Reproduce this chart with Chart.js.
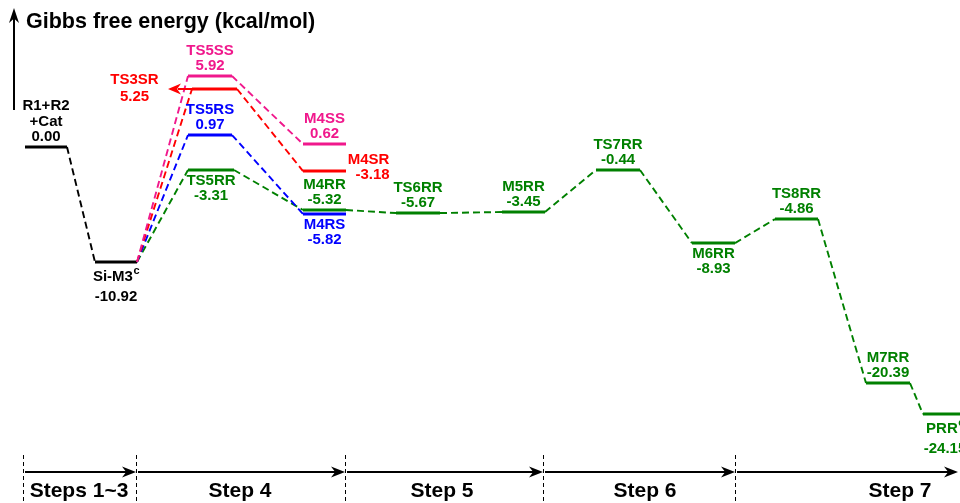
<!DOCTYPE html>
<html>
<head>
<meta charset="utf-8">
<script src="https://cdn.jsdelivr.net/npm/chart.js@4"></script>
<style>
    html, body { margin: 0; padding: 0; background: #fff; }
    #wrap { width: 960px; height: 503px; position: relative; }
</style>
</head>
<body>
<div id="wrap"><canvas id="profileChart"></canvas></div>
<script>
// species on the free energy profile
const species = ["R1+R2|+Cat", "Si-M3", "TS5SS", "TS3SR", "TS5RS", "TS5RR", "M4SS", "M4SR", "M4RR", "M4RS",
    "TS6RR", "M5RR", "TS7RR", "M6RR", "TS8RR", "M7RR", "PRR"];
const superscripts = ["", "c", "", "", "", "", "", "", "", "", "", "", "", "", "", "", "c"];
// Gibbs free energies (kcal/mol) as printed
const energies = [0.00, -10.92, 5.92, 5.25, 0.97, -3.31, 0.62, -3.18, -5.32, -5.82,
    -5.67, -3.45, -0.44, -8.93, -4.86, -20.39, -24.15];
// heights as drawn (the diagram is schematic, not to scale)
const drawnLevel = [0.00, -10.92, 6.74, 5.51, 1.14, -2.18, 0.28, -2.28, -5.98, -6.36,
    -6.27, -6.17, -2.18, -9.12, -6.84, -22.41, -25.36];
// reaction coordinate extent of each level
const levelStart = [25, 95, 188, 192, 188, 188, 303, 303, 303, 303, 396, 502, 596, 692, 775, 866, 923];
const levelEnd = [67, 137, 232, 237, 232, 234, 346, 346, 346, 346, 440, 545, 640, 735, 818, 910, 975];
// pathway each species belongs to
const pathway = ["ref", "ref", "SS", "SR", "RS", "RR", "SS", "SR", "RR", "RS",
    "RR", "RR", "RR", "RR", "RR", "RR", "RR"];
// dashed connections (from, to)
const connections = [[0, 1], [1, 2], [1, 3], [1, 4], [1, 5], [2, 6], [3, 7], [4, 9], [5, 8],
    [8, 10], [10, 11], [11, 12], [12, 13], [13, 14], [14, 15], [15, 16]];
// steps along the reaction coordinate
const stepNames = ["Steps 1~3", "Step 4", "Step 5", "Step 6", "Step 7"];
const stepBounds = [23, 136, 345, 543, 735, 960];
const stepLabelX = [79, 240, 442, 645, 900];

const colors = { ref: "#000000", SS: "#f0188c", SR: "#ff0000", RS: "#0000ff", RR: "#008000" };
// where each label sits relative to its level
const placement = ["above", "below2", "above", "left", "above", "below", "above", "right", "above", "below",
    "above", "above", "above", "below", "above", "above", "below2"];

const datasets = [];

connections.forEach(([a, b]) => {
    const c = a === 0 ? colors.ref : colors[pathway[b]];
    datasets.push({
        data: [{ x: levelEnd[a], y: drawnLevel[a] }, { x: levelStart[b], y: drawnLevel[b] }],
        borderColor: c,
        borderWidth: 1.9,
        borderDash: [7, 4],
        pointRadius: 0,
        fill: false
    });
});

species.forEach((s, i) => {
    datasets.push({
        data: [{ x: levelStart[i], y: drawnLevel[i] }, { x: levelEnd[i], y: drawnLevel[i] }],
        borderColor: colors[pathway[i]],
        borderWidth: 3,
        pointRadius: 0,
        fill: false
    });
});

const FONT = "bold 15px 'Liberation Sans', Arial, sans-serif";
const SUP_FONT = "bold 11px 'Liberation Sans', Arial, sans-serif";

function drawName(ctx, text, sup, cx, cy) {
    ctx.font = FONT;
    const w1 = ctx.measureText(text).width;
    ctx.font = SUP_FONT;
    const w2 = sup ? ctx.measureText(sup).width : 0;
    const x0 = cx - (w1 + w2) / 2;
    ctx.textAlign = "left";
    ctx.font = FONT;
    ctx.fillText(text, x0, cy);
    if (sup) {
        ctx.font = SUP_FONT;
        ctx.fillText(sup, x0 + w1 + 0.5, cy - 6);
    }
}

function arrowHead(ctx, tipX, tipY, dx, dy, len, half) {
    // dx, dy unit direction of the arrow
    ctx.beginPath();
    ctx.moveTo(tipX, tipY);
    ctx.lineTo(tipX - dx * len - dy * half, tipY - dy * len + dx * half);
    ctx.lineTo(tipX - dx * len * 0.7, tipY - dy * len * 0.7);
    ctx.lineTo(tipX - dx * len + dy * half, tipY - dy * len - dx * half);
    ctx.closePath();
    ctx.fill();
}

const diagramPlugin = {
    id: "diagram",
    afterDatasetsDraw(chart) {
        const { ctx, scales: { x, y } } = chart;
        ctx.save();
        ctx.textBaseline = "middle";

        // labels
        species.forEach((s, i) => {
            const cx = x.getPixelForValue((levelStart[i] + Math.min(levelEnd[i], 967)) / 2);
            const py = y.getPixelForValue(drawnLevel[i]);
            const lines = s.split("|");
            const e = energies[i].toFixed(2);
            ctx.fillStyle = colors[pathway[i]];
            const p = placement[i];
            if (p === "above") {
                const all = lines.concat([e]);
                all.forEach((t, k) => {
                    const ly = py - 10 - (all.length - 1 - k) * 15.5;
                    if (k === all.length - 1) {
                        ctx.font = FONT; ctx.textAlign = "center"; ctx.fillText(t, cx, ly);
                    } else {
                        drawName(ctx, t, k === lines.length - 1 ? superscripts[i] : "", cx, ly);
                    }
                });
            } else if (p === "below" || p === "below2") {
                const gap = p === "below2" ? 4 : 0;
                drawName(ctx, lines[0], superscripts[i], cx, py + 11 + gap);
                ctx.font = FONT; ctx.textAlign = "center";
                ctx.fillText(e, cx, py + 26 + gap * 2.2);
            } else if (p === "left") {
                drawName(ctx, lines[0], superscripts[i], cx - 80, py - 9);
                ctx.font = FONT; ctx.textAlign = "center";
                ctx.fillText(e, cx - 80, py + 8);
                // arrow pointing to the left of the level
                const sx = x.getPixelForValue(levelStart[i]);
                ctx.strokeStyle = colors[pathway[i]];
                ctx.lineWidth = 2;
                ctx.beginPath();
                ctx.moveTo(sx, py);
                ctx.lineTo(sx - 14, py);
                ctx.stroke();
                arrowHead(ctx, sx - 24, py, -1, 0, 13, 5.5);
            } else if (p === "right") {
                drawName(ctx, lines[0], superscripts[i], cx + 44, py - 11);
                ctx.font = FONT; ctx.textAlign = "center";
                ctx.fillText(e, cx + 48, py + 4);
            }
        });

        // y axis arrow and title
        ctx.fillStyle = "#000";
        ctx.strokeStyle = "#000";
        ctx.lineWidth = 2;
        ctx.beginPath();
        ctx.moveTo(14, 110);
        ctx.lineTo(14, 18);
        ctx.stroke();
        arrowHead(ctx, 14, 8, 0, -1, 15, 5);
        ctx.font = "bold 21.5px 'Liberation Sans', Arial, sans-serif";
        ctx.textAlign = "left";
        ctx.fillText("Gibbs free energy (kcal/mol)", 26, 22);

        // steps along the bottom
        const ay = 472;
        for (let k = 0; k < stepNames.length; k++) {
            const x0 = x.getPixelForValue(stepBounds[k]) + 2;
            const x1 = Math.min(x.getPixelForValue(stepBounds[k + 1]), 958);
            ctx.lineWidth = 2;
            ctx.setLineDash([]);
            ctx.beginPath();
            ctx.moveTo(x0, ay);
            ctx.lineTo(x1 - 6, ay);
            ctx.stroke();
            arrowHead(ctx, x1, ay, 1, 0, 14, 5.5);
            ctx.font = "bold 21px 'Liberation Sans', Arial, sans-serif";
            ctx.textAlign = "center";
            ctx.fillText(stepNames[k], x.getPixelForValue(stepLabelX[k]), 491);
        }
        ctx.lineWidth = 1;
        ctx.setLineDash([4, 3]);
        stepBounds.slice(0, -1).forEach(b => {
            const bx = Math.round(x.getPixelForValue(b)) + 0.5;
            ctx.beginPath();
            ctx.moveTo(bx, 455);
            ctx.lineTo(bx, 503);
            ctx.stroke();
        });
        ctx.restore();
    }
};

new Chart(document.getElementById("profileChart"), {
    type: "line",
    data: { datasets: datasets },
    options: {
        responsive: true,
        maintainAspectRatio: false,
        animation: false,
        layout: { padding: 0 },
        plugins: { legend: { display: false }, tooltip: { enabled: false } },
        scales: {
            x: { type: "linear", min: 0, max: 960, display: false },
            y: { type: "linear", min: -33.8, max: 13.96, display: false }
        }
    },
    plugins: [diagramPlugin]
});
</script>
</body>
</html>
